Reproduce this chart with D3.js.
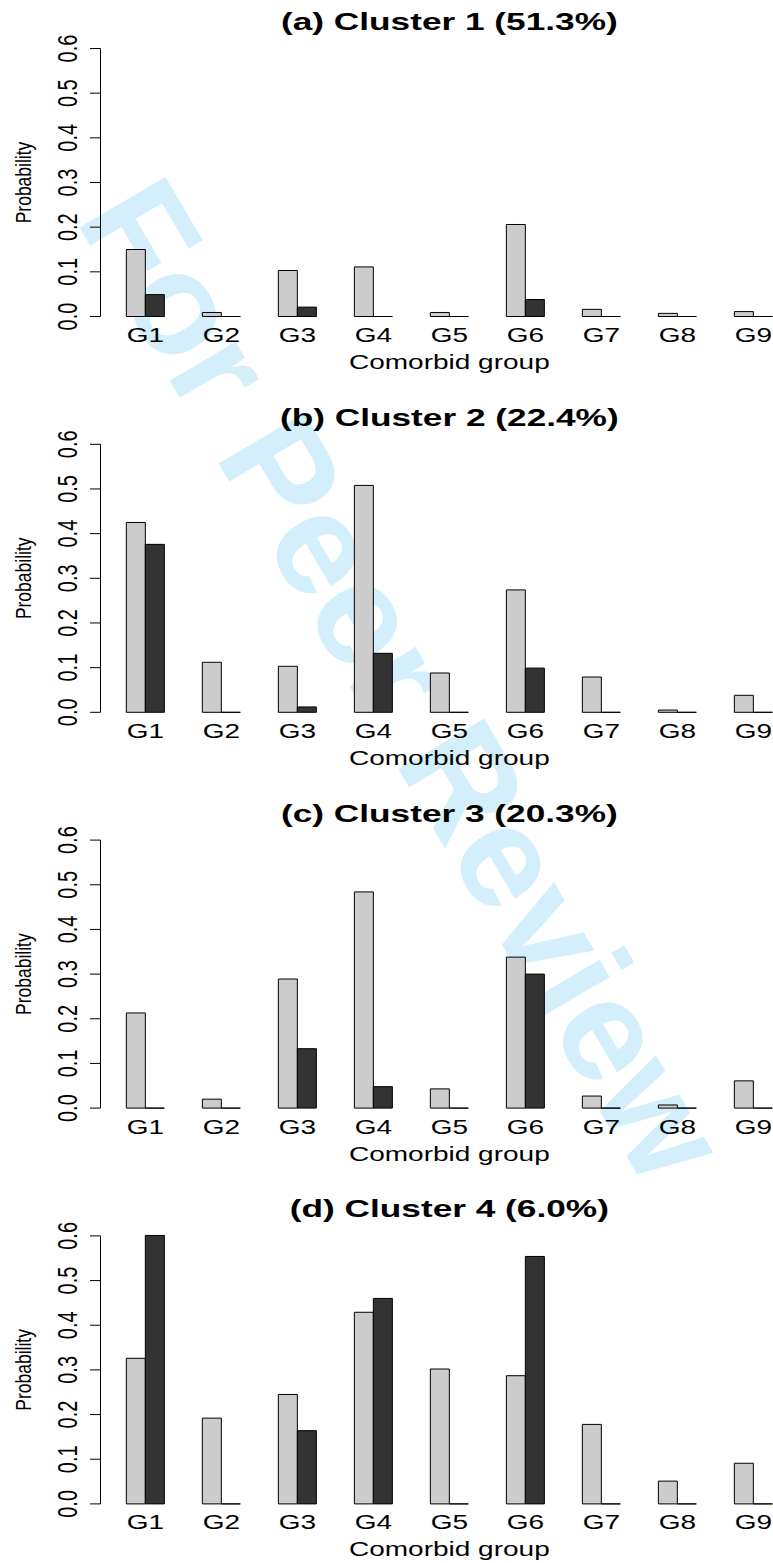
<!DOCTYPE html>
<html>
<head>
<meta charset="utf-8">
<script src="https://cdn.jsdelivr.net/npm/d3@7"></script>
<style>
  html, body { margin: 0; padding: 0; background: #fff; }
  svg { display: block; }
  text { font-family: "Liberation Sans", Arial, Helvetica, sans-serif; }
</style>
</head>
<body>
<div id="chart"></div>
<script>
// ---------------- data ----------------
const groups = ["G1", "G2", "G3", "G4", "G5", "G6", "G7", "G8", "G9"];
const panelTitles = ["(a) Cluster 1 (51.3%)", "(b) Cluster 2 (22.4%)", "(c) Cluster 3 (20.3%)", "(d) Cluster 4 (6.0%)"];
const yTicks = [0, 0.1, 0.2, 0.3, 0.4, 0.5, 0.6];
const yTickLabels = ["0.0", "0.1", "0.2", "0.3", "0.4", "0.5", "0.6"];

const cluster1Light = [0.150, 0.009, 0.103, 0.111, 0.009, 0.206, 0.016, 0.007, 0.011];
const cluster1Dark  = [0.049, 0.000, 0.021, 0.000, 0.000, 0.038, 0.000, 0.000, 0.000];
const cluster2Light = [0.425, 0.112, 0.103, 0.508, 0.088, 0.274, 0.079, 0.005, 0.038];
const cluster2Dark  = [0.376, 0.000, 0.012, 0.132, 0.000, 0.099, 0.000, 0.000, 0.000];
const cluster3Light = [0.213, 0.020, 0.289, 0.484, 0.043, 0.338, 0.027, 0.007, 0.061];
const cluster3Dark  = [0.000, 0.000, 0.133, 0.048, 0.000, 0.300, 0.000, 0.000, 0.000];
const cluster4Light = [0.326, 0.192, 0.245, 0.429, 0.302, 0.287, 0.178, 0.051, 0.091];
const cluster4Dark  = [0.601, 0.000, 0.164, 0.460, 0.000, 0.554, 0.000, 0.000, 0.000];

const lightSeries = [cluster1Light, cluster2Light, cluster3Light, cluster4Light];
const darkSeries  = [cluster1Dark, cluster2Dark, cluster3Dark, cluster4Dark];

const xLabel = "Comorbid group";
const yLabel = "Probability";
const watermark = "For Peer Review";

// ---------------- layout ----------------
const W = 773, H = 1563;
const panelStep = 395.8;
const zero0 = 316.5;
const plotH = 268;
const sxText = 1.4;     // horizontal stretch of the original figure's text
const sxTitle = 1.5;
const sxYLab = 1.3;

const svg = d3.select("#chart").append("svg")
  .attr("width", W).attr("height", H);

// watermark (behind)
svg.append("text")
  .attr("transform", "translate(404,680) rotate(59.5)")
  .attr("text-anchor", "middle")
  .attr("dominant-baseline", "central")
  .style("font-size", "145px")
  .style("font-weight", "bold")
  .style("fill", "#d3effb")
  .text(watermark);

// x positions in bar units (R barplot beside, space = c(0,2))
const barUnits = [];
groups.forEach((g, i) => {
  barUnits.push({ group: g, gi: i, start: 2 + 4 * i });
});
const x = d3.scaleLinear().domain([0.64, 37.36]).range([100.5, 798.2]);

panelTitles.forEach((title, p) => {
  const zero = zero0 + p * panelStep;
  const y = d3.scaleLinear().domain([0, 0.6]).range([zero, zero - plotH]);
  const g = svg.append("g");

  // title
  g.append("text")
    .attr("transform", `translate(${x((0.64 + 37.36) / 2)},${zero - 286.5}) scale(${sxTitle},1)`)
    .attr("text-anchor", "middle")
    .style("font-size", "23.5px")
    .style("font-weight", "bold")
    .style("fill", "#000")
    .text(title);

  // bars
  const light = lightSeries[p], dark = darkSeries[p];
  const rectPath = (x0, x1, v) => {
    const y0 = y(0), y1 = y(v);
    return `M${x0},${y0}H${x1}V${y1}H${x0}Z`;
  };
  barUnits.forEach(b => {
    g.append("path")
      .attr("d", rectPath(x(b.start), x(b.start + 1), light[b.gi]))
      .attr("fill", "#cccccc").attr("stroke", "#000").attr("stroke-width", 1);
    g.append("path")
      .attr("d", rectPath(x(b.start + 1), x(b.start + 2), dark[b.gi]))
      .attr("fill", "#333333").attr("stroke", "#000").attr("stroke-width", 1);
  });

  // y axis
  const ax = g.append("g");
  ax.append("line")
    .attr("x1", 100.5).attr("x2", 100.5)
    .attr("y1", y(0)).attr("y2", y(0.6))
    .attr("stroke", "#000").attr("stroke-width", 1);
  yTicks.forEach((t, i) => {
    ax.append("line")
      .attr("x1", 90).attr("x2", 100.5)
      .attr("y1", y(t)).attr("y2", y(t))
      .attr("stroke", "#000").attr("stroke-width", 1);
    ax.append("text")
      .attr("transform", `translate(76.5,${y(t)}) scale(${sxText},1) rotate(-90)`)
      .attr("text-anchor", "middle")
      .style("font-size", "20px")
      .style("fill", "#000")
      .text(yTickLabels[i]);
  });

  // group labels
  barUnits.forEach(b => {
    g.append("text")
      .attr("transform", `translate(${x(b.start + 1)},${zero + 25.5}) scale(${sxText},1)`)
      .attr("text-anchor", "middle")
      .style("font-size", "20px")
      .style("fill", "#000")
      .text(b.group);
  });

  // axis titles
  g.append("text")
    .attr("transform", `translate(${x((0.64 + 37.36) / 2)},${zero + 52.5}) scale(${sxText},1)`)
    .attr("text-anchor", "middle")
    .style("font-size", "20px")
    .style("fill", "#000")
    .text(xLabel);
  g.append("text")
    .attr("transform", `translate(31,${zero - plotH / 2}) scale(${sxYLab},1) rotate(-90)`)
    .attr("text-anchor", "middle")
    .style("font-size", "17.5px")
    .style("fill", "#000")
    .text(yLabel);
});
</script>
</body>
</html>
